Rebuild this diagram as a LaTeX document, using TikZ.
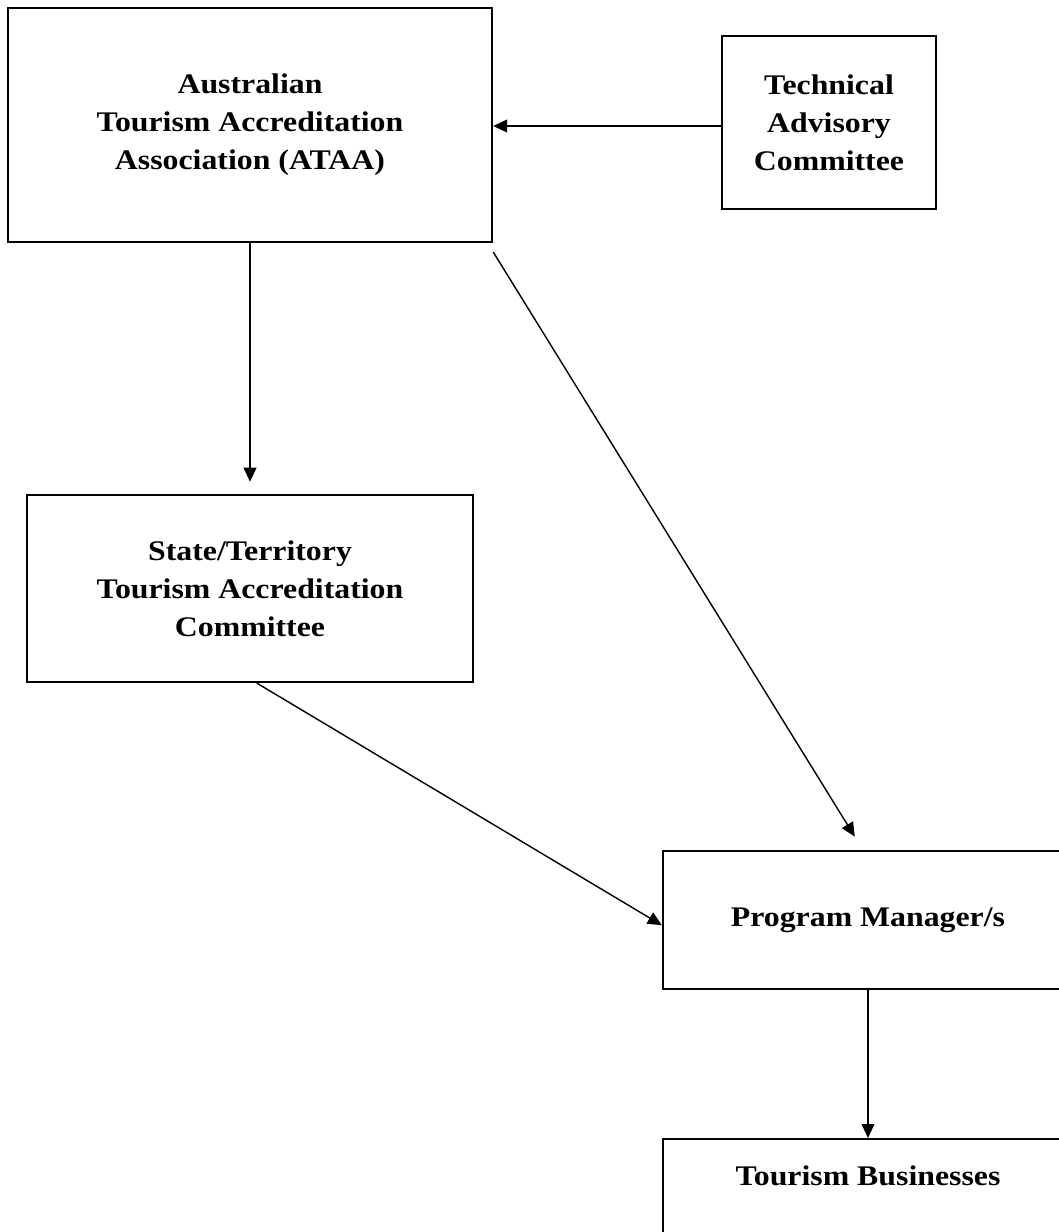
\documentclass[tikz,border=0pt]{standalone}
\usepackage{fontspec}
\setmainfont{Liberation Serif}[FakeStretch=1.12]
\usetikzlibrary{arrows.meta}

\begin{document}
\begin{tikzpicture}[
    orgbox/.style={draw, line width=1.7pt, align=center, inner sep=0pt,
        font=\fontsize{20.2}{27}\selectfont\bfseries},
    arr/.style={line width=1pt, -{Triangle[length=0.35cm, width=0.32cm]}}
  ]
        \useasboundingbox (0,0) rectangle (26.475,-30.8);
        % boxes
        \node[orgbox, minimum width=12.1cm, minimum height=5.85cm] (ataa) at (6.25,-3.125)
            {Australian\\Tourism Accreditation\\Association (ATAA)};
        \node[orgbox, minimum width=5.35cm, minimum height=4.325cm] (tac) at (20.725,-3.06)
            {Technical\\Advisory\\Committee};
        \node[orgbox, minimum width=11.15cm, minimum height=4.675cm] (state) at (6.25,-14.71)
            {State/Territory\\Tourism Accreditation\\Committee};
        \node[orgbox, minimum width=10.25cm, minimum height=3.45cm] (pm) at (21.7,-23.0)
            {Program Manager/s};
        \node[orgbox, align=none, minimum width=10.25cm, text height=1.15cm, text depth=2.2cm,
            anchor=north] (tb) at (21.7,-28.45) {Tourism Businesses};
        % arrows
        \draw[arr] ([yshift=-0.09cm]tac.west) -- ([yshift=-0.09cm]tac.west -| ataa.east);
        \draw[arr] (ataa.south) -- ([yshift=0.3cm]state.north);
        \draw[arr] ([yshift=-0.22cm]ataa.south east) -- ([xshift=-0.33cm, yshift=0.33cm]pm.north);
        \draw[arr] ([xshift=0.17cm]state.south) -- ([yshift=-0.13cm]pm.west);
        \draw[arr] (pm.south) -- (tb.north);
\end{tikzpicture}
\end{document}
